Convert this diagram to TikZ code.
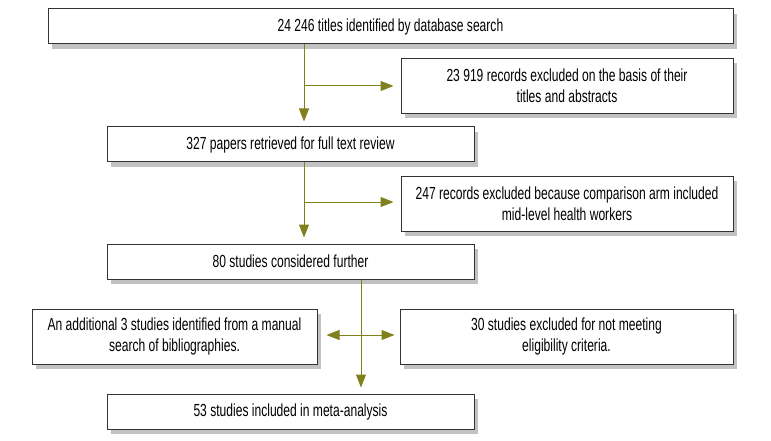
\documentclass[tikz,border=0pt]{standalone}
\usepackage{fontspec}
\setmainfont{Liberation Sans}[FakeStretch=0.69]
\usepackage{tikz}
\usetikzlibrary{arrows.meta, shadows}
\definecolor{flowolive}{RGB}{128,128,28}

\begin{document}
\begin{tikzpicture}[x=1pt, y=-1pt,
  box/.style={draw=black!80, line width=1pt, fill=white, align=center, inner sep=0pt,
    font=\fontsize{17.5}{20.7}\selectfont,
    drop shadow={shadow xshift=4pt, shadow yshift=-5pt, fill=black!24, opacity=1}},
  wide/.style={box, minimum width=685pt, minimum height=35pt},
  mid/.style={box, minimum width=367pt, minimum height=35pt},
  side/.style={box, minimum height=55pt},
  flow/.style={draw=flowolive, line width=1pt, -{Triangle[length=13pt, width=10pt]}}]
\useasboundingbox (0,0) rectangle (771,441);

\node[wide] (search) at (390.5,26.5) {24 246 titles identified by database search};
\node[side, minimum width=332pt] (excl1) at (567,86) {23 919 records excluded on the basis of their\\titles and abstracts};
\node[mid] (papers) at (290.5,144.5) {327 papers retrieved for full text review};
\node[side, minimum width=332pt] (excl2) at (567,203.5) {247 records excluded because comparison arm included\\mid-level health workers};
\node[mid] (further) at (290.5,261.5) {80 studies considered further};
\node[side, minimum width=285pt] (manual) at (174.5,336.5) {An additional 3 studies identified from a manual\\search of bibliographies.};
\node[side, minimum width=333pt] (excl3) at (566.5,336.5) {30 studies excluded for not meeting\\eligibility criteria.};
\node[mid] (meta) at (290.5,411.5) {53 studies included in meta-analysis};

\coordinate (s1) at (304,86);
\coordinate (s2) at (304,202);
\coordinate (s3) at (361,335);

\draw[flow, shorten >=5pt] (s1 |- search.south) -- (s1 |- papers.north);
\draw[flow, shorten >=7pt] (s1) -- (s1 -| excl1.west);
\draw[flow, shorten >=6pt] (s2 |- papers.south) -- (s2 |- further.north);
\draw[flow, shorten >=7pt] (s2) -- (s2 -| excl2.west);
\draw[flow, shorten >=6pt] (s3 |- further.south) -- (s3 |- meta.north);
\draw[flow, {Triangle[length=13pt, width=10pt]}-{Triangle[length=13pt, width=10pt]}, shorten <=9pt, shorten >=5pt]
  (s3 -| manual.east) -- (s3 -| excl3.west);
\end{tikzpicture}
\end{document}
